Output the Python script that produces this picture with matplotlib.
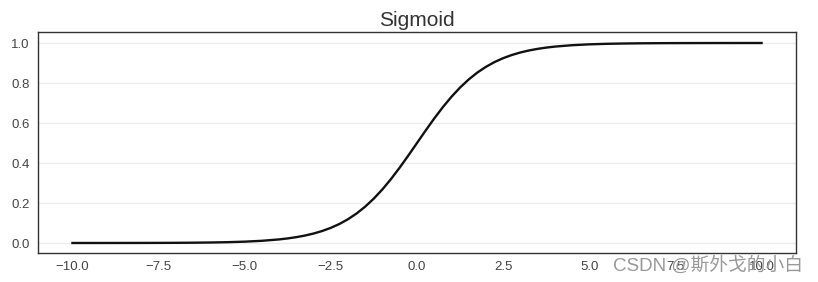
import matplotlib
matplotlib.use("Agg")
import matplotlib.pyplot as plt

plt.rcParams['font.family'] = ['Liberation Sans', 'DejaVu Sans']

x_vals = [-10.0, -9.5, -9.0, -8.5, -8.0, -7.5, -7.0, -6.5, -6.0, -5.5, -5.0, -4.5,
          -4.0, -3.75, -3.5, -3.25, -3.0, -2.75, -2.5, -2.25, -2.0, -1.75, -1.5, -1.25,
          -1.0, -0.75, -0.5, -0.25, 0.0, 0.25, 0.5, 0.75, 1.0, 1.25, 1.5, 1.75,
          2.0, 2.25, 2.5, 2.75, 3.0, 3.25, 3.5, 3.75, 4.0,
          4.5, 5.0, 5.5, 6.0, 6.5, 7.0, 7.5, 8.0, 8.5, 9.0, 9.5, 10.0]
y_vals = [0.00005, 0.00007, 0.00012, 0.0002, 0.00034, 0.00055, 0.0009, 0.0015, 0.0025, 0.0041, 0.0067, 0.011,
          0.018, 0.023, 0.0293, 0.0373, 0.0474, 0.0601, 0.0759, 0.0953, 0.1192, 0.148, 0.1824, 0.2227,
          0.2689, 0.3208, 0.3775, 0.4378, 0.5, 0.5622, 0.6225, 0.6792, 0.7311, 0.7773, 0.8176, 0.852,
          0.8808, 0.9047, 0.9241, 0.9399, 0.9526, 0.9627, 0.9707, 0.977, 0.982,
          0.989, 0.9933, 0.9959, 0.9975, 0.9985, 0.9991, 0.99945, 0.99966, 0.9998, 0.99988, 0.99993, 0.99995]
x_ticks = [-10.0, -7.5, -5.0, -2.5, 0.0, 2.5, 5.0, 7.5, 10.0]
y_ticks = [0.0, 0.2, 0.4, 0.6, 0.8, 1.0]

fig = plt.figure(figsize=(8.18, 2.82), dpi=100)
ax = fig.add_axes([38/818, 1-253/282, (796-38)/818, (253-32)/282])
ax.plot(x_vals, y_vals, color='#111111', linewidth=1.7)
ax.set_xlim(-11, 11)
ax.set_ylim(-0.05, 1.055)
ax.set_xticks(x_ticks)
ax.set_yticks(y_ticks)
ax.set_xticklabels([f"{t:.1f}".replace('-', '\u2212') for t in x_ticks])
ax.set_yticklabels([f"{t:.1f}" for t in y_ticks])
ax.tick_params(length=0, labelsize=9.5, colors='#444444', pad=6)
ax.grid(axis='y', color='#ebebeb', linewidth=1)
ax.set_axisbelow(True)
for s in ax.spines.values():
    s.set_color('#333333')
    s.set_linewidth(1.0)
ax.set_title('Sigmoid', fontsize=15, color='#333333', pad=4)

fig.text(0.982, 0.025, 'CSDN @斯外戈的小白', ha='right', va='bottom', fontsize=13.5,
         color='#999999', family=['Liberation Sans', 'Noto Sans CJK SC', 'DejaVu Sans'])

fig.savefig('out.png', dpi=100)
